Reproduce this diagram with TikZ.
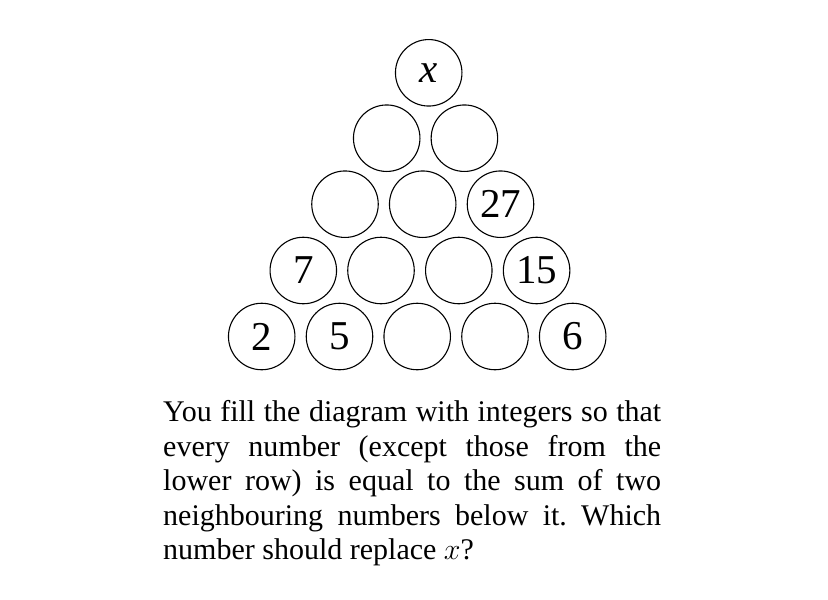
\RequirePackage{fix-cm}
\documentclass[tikz,border=0pt]{standalone}
\usepackage{fontspec}
\setmainfont{Liberation Serif}
\begin{document}
\begin{tikzpicture}[x=1pt,y=-1pt,
  ball/.style={circle,draw,line width=1.1pt,minimum size=66.5pt,inner sep=0pt,font=\fontsize{41}{41}\selectfont},
  question/.style={anchor=north west,text width=498pt,align=justify,inner sep=0pt,font=\fontsize{30}{34.4}\selectfont\frenchspacing}]
\useasboundingbox (0,0) rectangle (828,600);
% row 1 (top)
\node[ball] (a1) at (428.7,72.8) {\textit{x}};
% row 2
\node[ball] (b1) at (386.7,138.2) {};
\node[ball] (b2) at (464.4,138.2) {};
% row 3
\node[ball] (c1) at (345.0,204.2) {};
\node[ball] (c2) at (422.7,204.2) {};
\node[ball] (c3) at (500.5,204.2) {27};
% row 4
\node[ball] (d1) at (303.3,270.5) {7};
\node[ball] (d2) at (381.0,270.5) {};
\node[ball] (d3) at (458.8,270.5) {};
\node[ball] (d4) at (536.6,270.5) {15};
% row 5
\node[ball] (e1) at (261.7,336.5) {2};
\node[ball] (e2) at (339.5,336.5) {5};
\node[ball] (e3) at (417.2,336.5) {};
\node[ball] (e4) at (495.0,336.5) {};
\node[ball] (e5) at (572.7,336.5) {6};
% question
\node[question] (q) at (163,400.5) {You fill the diagram with integers so that\linebreak every number (except those from the\linebreak lower row) is equal to the sum of two\linebreak neighbouring numbers below it. Which\linebreak number should replace $x$?};
\end{tikzpicture}
\end{document}
